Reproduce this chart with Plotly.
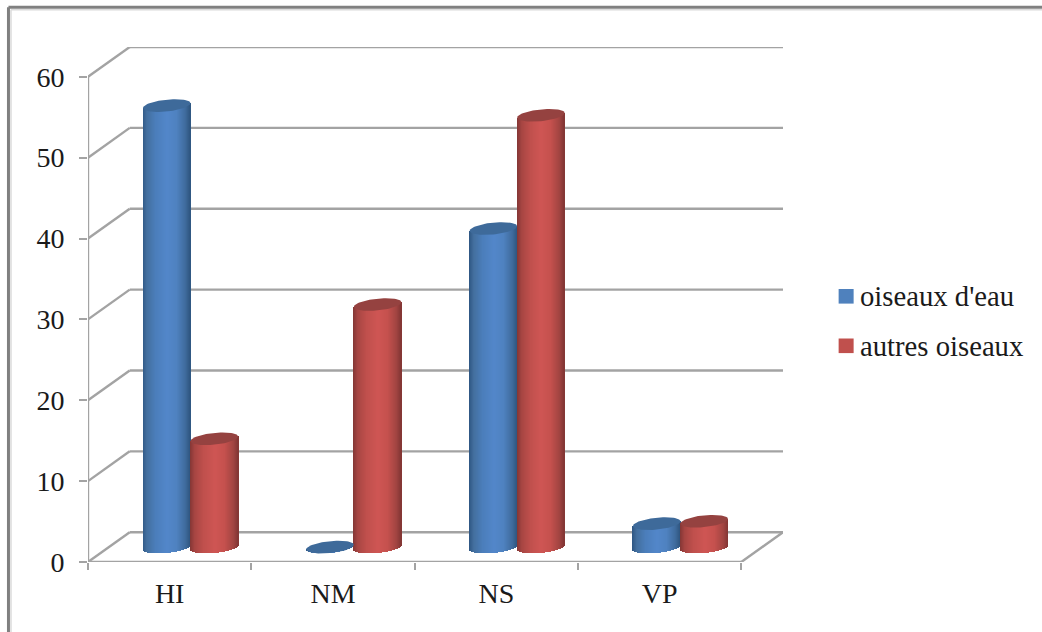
import numpy as np
import plotly.graph_objects as go

# Chart data
categories = ["HI", "NM", "NS", "VP"]
y_ticks = [0, 10, 20, 30, 40, 50, 60]
oiseaux_eau = [54.6, 0, 39.4, 2.9]
autres_oiseaux = [13.4, 30.0, 53.4, 3.2]

# Canvas and oblique projection of the 3D floor
WIDTH, HEIGHT = 1042, 632
PLOT_L, PLOT_R, PLOT_T, PLOT_B = 88.0, 782.7, 46.7, 561.7
UNIT_X = (741.0 - 88.0) / 4          # pixels per category
UNIT_Y = (561.7 - 77.7) / 60         # pixels per value unit
DEPTH_X = (PLOT_R - 741.0) / UNIT_X
DEPTH_Y = (PLOT_B - 532.0) / UNIT_Y
X_MAX, Y_MAX = 4 + DEPTH_X, 60 + DEPTH_Y

# Cylinder shape, in axis units
CYL_W = 47.5 / UNIT_X
CAP_B = 5.9 / UNIT_Y
CAP_TILT = 2.3 / UNIT_Y
STRIPS = 48

GRID = "#A3A3A3"
BLUE_RAMP = ["#2E5682", "#44709F", "#4B7EBB", "#5387CA", "#4F82C0", "#406C9E", "#2F5680"]
RED_RAMP = ["#843735", "#A84643", "#C0504D", "#CF5654", "#C5514E", "#A34542", "#823634"]
BLUE_CAP, RED_CAP = "#3E6A9A", "#954240"
STOPS = [0.0, 0.10, 0.28, 0.52, 0.72, 0.90, 1.0]


def shade(ramp, t):
    rgb = np.array([[int(c[i:i + 2], 16) for i in (1, 3, 5)] for c in ramp], float)
    vals = [np.interp(t, STOPS, rgb[:, k]) for k in range(3)]
    return "rgb(%d,%d,%d)" % tuple(vals)


def cylinder_arrays(values, offset, ramp):
    """One thin bar per shaded strip of every cylinder in a series."""
    xs, tops, bases, colors = [], [], [], []
    step = CYL_W / STRIPS
    for i, v in enumerate(values):
        cx = i + 0.5 + DEPTH_X / 2 + offset * CYL_W
        for s in range(STRIPS):
            t = (s + 0.5) / STRIPS
            u = 2 * t - 1
            lean = CAP_TILT * u
            low = DEPTH_Y / 2 + lean - CAP_B * np.sqrt(1 - u * u)
            xs.append(cx + u * CYL_W / 2)
            bases.append(low)
            tops.append(DEPTH_Y / 2 + v + lean - low)
            colors.append(shade(ramp, t))
    return xs, tops, bases, colors, step


def cap_outline(v, i, offset):
    cx = i + 0.5 + DEPTH_X / 2 + offset * CYL_W
    a = np.linspace(0, 2 * np.pi, 73)
    return (cx + np.cos(a) * CYL_W / 2,
            DEPTH_Y / 2 + v + CAP_TILT * np.cos(a) + CAP_B * np.sin(a))


fig = go.Figure()

series = [
    ("oiseaux d'eau", oiseaux_eau, -0.5, BLUE_RAMP, BLUE_CAP, "#4F81BD", 296),
    ("autres oiseaux", autres_oiseaux, 0.5, RED_RAMP, RED_CAP, "#C0504D", 345.5),
]

for name, values, offset, ramp, cap, swatch, key_y in series:
    xs, tops, bases, colors, step = cylinder_arrays(values, offset, ramp)
    fig.add_trace(go.Bar(x=xs, y=tops, base=bases, width=step,
                         marker=dict(color=colors, line=dict(width=0)),
                         name=name, showlegend=False, hoverinfo="skip"))

for name, values, offset, ramp, cap, swatch, key_y in series:
    for i, v in enumerate(values):
        cx, cy = cap_outline(v, i, offset)
        fig.add_trace(go.Scatter(x=cx, y=cy, mode="lines", fill="toself",
                                 fillcolor=cap, line=dict(width=0),
                                 showlegend=False, hoverinfo="skip"))


# Page pixels to paper coordinates, which are measured on the plot area
def px(x):
    return (x - PLOT_L) / (PLOT_R - PLOT_L)


def py(y):
    return (PLOT_B - y) / (PLOT_B - PLOT_T)


# Walls and floor: back gridlines with their diagonals, then the front axis lines
shapes = []


def seg(x0, y0, x1, y1, color=GRID, width=2.4):
    shapes.append(dict(type="line", xref="x", yref="y", x0=x0, y0=y0, x1=x1, y1=y1,
                       layer="below", line=dict(color=color, width=width)))


for v in y_ticks:
    seg(0, v, DEPTH_X, v + DEPTH_Y)
    seg(DEPTH_X, v + DEPTH_Y, X_MAX, v + DEPTH_Y)
seg(0, 0, 0, 60)
seg(0, 0, 4, 0)
seg(4, 0, X_MAX, DEPTH_Y)

# Outer frame along the top and left of the page
for c, w, off in (("#DADADA", 1.5, 2.5), ("#808080", 3, 0)):
    shapes.append(dict(type="line", xref="paper", yref="paper",
                       x0=px(8.5 + off), y0=py(7 + off), x1=px(1042), y1=py(7 + off),
                       line=dict(color=c, width=w)))
    shapes.append(dict(type="line", xref="paper", yref="paper",
                       x0=px(8.5 + off), y0=py(7 + off), x1=px(8.5 + off), y1=py(632),
                       line=dict(color=c, width=w)))

# Key on the right: colour square plus series name
FONT = "Liberation Serif"
annotations = []
for name, values, offset, ramp, cap, swatch, key_y in series:
    shapes.append(dict(type="rect", xref="paper", yref="paper",
                       x0=px(838.3), x1=px(853.3), y0=py(key_y - 7.3), y1=py(key_y + 7.3),
                       fillcolor=swatch, line=dict(width=0)))
    annotations.append(dict(xref="paper", yref="paper", x=px(859), y=py(key_y),
                            xanchor="left", yanchor="middle", showarrow=False, text=name,
                            borderpad=0, font=dict(family=FONT, size=28.7, color="#1A1A1A")))

fig.update_layout(
    width=WIDTH, height=HEIGHT, autosize=False,
    margin=dict(l=PLOT_L, r=WIDTH - PLOT_R, t=PLOT_T, b=HEIGHT - PLOT_B, pad=0),
    paper_bgcolor="white", plot_bgcolor="white",
    barmode="overlay", bargap=0, showlegend=False,
    font=dict(family=FONT, size=28, color="#1A1A1A"),
    shapes=shapes, annotations=annotations,
    xaxis=dict(range=[0, X_MAX], showgrid=False, zeroline=False, showline=False,
               tickmode="array", tickvals=[i + 0.5 for i in range(len(categories))],
               ticktext=categories, ticks="", ticklabelstandoff=12,
               minor=dict(tickmode="array", tickvals=list(range(len(categories) + 1)),
                          ticks="outside", ticklen=7, tickwidth=2.4, tickcolor=GRID)),
    yaxis=dict(range=[0, Y_MAX], showgrid=False, zeroline=False, showline=False,
               tickmode="array", tickvals=y_ticks, ticks="outside", ticklen=8,
               tickwidth=2.4, tickcolor=GRID, ticklabelstandoff=9),
)

fig.write_html("out.html")
